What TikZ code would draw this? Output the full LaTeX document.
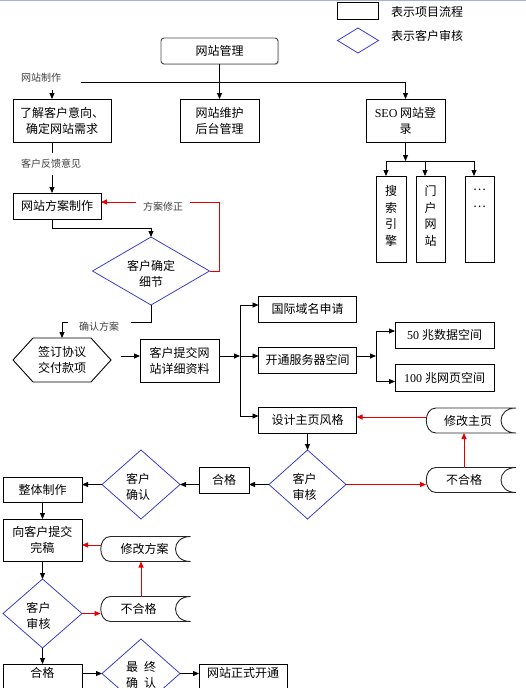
\documentclass[tikz,border=0pt]{standalone}
\usepackage{fontspec}
\setmainfont{Noto Sans CJK SC}
\newfontfamily\latf{Liberation Serif}
\usetikzlibrary{arrows.meta,shapes.geometric,calc,shadows}
\definecolor{diablue}{RGB}{60,60,205}
\definecolor{redl}{RGB}{230,0,0}
\definecolor{topline}{RGB}{165,180,200}
\tikzset{
  every node/.style={inner sep=0pt,outer sep=0pt},
  base/.style={font=\fontsize{12}{16}\selectfont, align=center},
  procbox/.style={base, draw=black, line width=0.9pt, rectangle},
  diab/.style={diamond, draw=diablue, line width=0.8pt},
  stbox/.style={rectangle, minimum width=90pt, minimum height=25pt},
  lbl/.style={font=\fontsize{10}{12}\selectfont, text=black!75, fill=white},
  arr/.style={draw=black, line width=0.8pt, -{Triangle[length=6pt,width=5pt]}},
  rarr/.style={draw=redl, line width=0.8pt, -{Triangle[length=6pt,width=5pt]}, color=redl},
  ln/.style={draw=black, line width=0.8pt},
  stline/.style={draw=black!85, line width=0.9pt},
  vtext/.style={font=\fontsize{12}{16.7}\selectfont, align=center},
}
\newcommand\stshape[1]{\draw[stline] ([xshift=10pt]#1.north west) -- (#1.north east) .. controls ([xshift=-20pt]#1.north east) and ([xshift=-20pt]#1.south east) .. (#1.south east) -- ([xshift=10pt]#1.south west) .. controls ([xshift=-3pt]#1.south west) and ([xshift=-3pt]#1.north west) .. ([xshift=10pt]#1.north west);}
\begin{document}
\begin{tikzpicture}[x=1pt,y=-1pt]
\useasboundingbox (0,0) rectangle (526,688);
\clip (0,0) rectangle (526,688);
\draw[topline, line width=1pt] (0,0.5) -- (526,0.5);

% legend
\node[draw=black, line width=0.9pt, minimum width=41pt, minimum height=17pt] (lgr) at (358,10.5) {};
\node[diab, minimum width=41pt, minimum height=25pt] (lgd) at (358,40.5) {};
\node[base, anchor=west] (lgt1) at (391,12) {表示项目流程};
\node[base, anchor=west] (lgt2) at (391,36) {表示客户审核};

% top
\node[procbox, draw=black!70, fill=white, rounded corners=3pt, minimum width=117pt, minimum height=26pt, drop shadow={shadow xshift=1pt,shadow yshift=-1pt,fill=black!30}] (mgmt) at (219.5,51) {网站管理};
\node[procbox, minimum width=98pt, minimum height=43pt] (lj) at (62,120.5) {了解客户意向、\\确定网站需求};
\node[procbox, minimum width=79pt, minimum height=43pt] (wh) at (219.5,120.5) {网站维护\\后台管理};
\node[procbox, minimum width=79pt, minimum height=43pt] (seo) at (405.5,120.5) {{\latf SEO} 网站登\\录};

% SEO children
\node[procbox, minimum width=30pt, minimum height=86pt] (ss) at (391,219) {};
\node[vtext] (sst) at (391,216) {搜\\索\\引\\擎};
\node[procbox, minimum width=29pt, minimum height=86pt] (mh) at (430.5,219) {};
\node[vtext] (mht) at (430.5,216) {门\\户\\网\\站};
\node[procbox, minimum width=29pt, minimum height=86pt] (dd) at (479.5,219) {};
\node[vtext] (ddt) at (479.5,198) {…\\…};

% left column upper
\node[procbox, minimum width=88pt, minimum height=26pt] (fa) at (57,206) {网站方案制作};
\node[diab, minimum width=117pt, minimum height=68pt, label={[base,yshift=-3pt]center:客户确定\\细节}] (d1) at (151,271) {};
\node[base, minimum width=98pt, minimum height=44pt] (hx) at (62,360) {签订协议\\交付款项};
\draw[line width=0.9pt] (hx.west) -- ([xshift=20pt]hx.north west) -- ([xshift=-20pt]hx.north east) -- (hx.east) -- ([xshift=-20pt]hx.south east) -- ([xshift=20pt]hx.south west) -- cycle;
\node[procbox, minimum width=79pt, minimum height=43pt] (kt) at (179.5,360.5) {客户提交网\\站详细资料};

% middle boxes
\node[procbox, minimum width=98pt, minimum height=26pt] (gj) at (307.5,309) {国际域名申请};
\node[procbox, minimum width=98pt, minimum height=26pt] (kts) at (307.5,360) {开通服务器空间};
\node[procbox, minimum width=98pt, minimum height=26pt] (sj) at (307.5,420) {设计主页风格};
\node[procbox, minimum width=99pt, minimum height=26pt] (b50) at (444.5,335) {{\latf 50 }兆数据空间};
\node[procbox, minimum width=99pt, minimum height=27pt] (b100) at (444.5,377.5) {{\latf 100 }兆网页空间};

% stored shapes
\node[stbox, label={[base,xshift=-3pt]center:修改主页}] (xg) at (471,420.5) {};
\node[stbox, label={[base,xshift=-7pt]center:不合格}] (nR) at (471,480) {};
\node[stbox, label={[base,xshift=-1pt]center:修改方案}] (xf) at (145.5,549) {};
\node[stbox, label={[base,xshift=-7pt]center:不合格}] (nL) at (145.5,609) {};
\stshape{xg}
\stshape{nR}
\stshape{xf}
\stshape{nL}

% lower
\node[diab, minimum width=77pt, minimum height=69pt, label={[base,xshift=-3pt,yshift=-2pt]center:客户\\审核}] (d2) at (307.5,484.5) {};
\node[procbox, minimum width=50pt, minimum height=26pt] (hg1) at (224,480) {合格};
\node[diab, minimum width=78pt, minimum height=69pt, label={[base,xshift=-3pt,yshift=-2pt]center:客户\\确认}] (d3) at (141,484.5) {};
\node[procbox, minimum width=79pt, minimum height=25pt] (zt) at (42.5,489.5) {整体制作};
\node[procbox, minimum width=79pt, minimum height=42pt] (wg) at (42.5,540) {向客户提交\\完稿};
\node[diab, minimum width=79pt, minimum height=69pt, label={[base,xshift=-4pt,yshift=-2pt]center:客户\\审核}] (d4) at (42.5,613.5) {};
\node[procbox, minimum width=79pt, minimum height=26pt, label={[base,yshift=4pt]center:合格}] (hg2) at (42.5,677) {};
\node[diab, minimum width=78pt, minimum height=69pt, label={[base,yshift=-1pt]center:最\hspace{6pt}终\\确\hspace{6pt}认}] (d5) at (141,673.5) {};
\node[procbox, minimum width=88pt, minimum height=26pt, label={[base,yshift=4pt]center:网站正式开通}] (zs) at (243,677) {};

% connectors top
\coordinate (cA) at (52,82);
\draw[arr] (mgmt.south) -- (wh.north);
\draw[ln] (cA) -- (cA -| seo.north);
\draw[arr] (cA -| seo.north) -- (seo.north);
\draw[arr] (cA) -- (cA |- lj.north);
\draw[arr] (cA |- lj.south) -- (cA |- fa.north);
\coordinate (r1) at (219,202);
\draw[rarr] (d1.east) -| (r1) -- (r1 -| fa.east);
\draw[arr] (cA |- fa.south) -- ++(0,9) -| (d1.north);
\coordinate (r2) at (62,322);
\draw[arr] (d1.south) |- (r2) -- (hx.north);
\coordinate (r3) at (121,356);
\draw[arr] (r3) -- (r3 -| kt.west);
\coordinate (r4) at (240,356);
\draw[arr] (r3 -| kt.east) -- (r4);
\draw[arr] (r4) -- (r4 -| kts.west);
\draw[arr] (r4) |- ([yshift=4pt]gj.west);
\draw[arr] (r4) |- ([yshift=4pt]sj.west);
\coordinate (r5) at (376,356);
\draw[arr] (r5 -| kts.east) -- (r5);
\draw[arr] (r5) |- ([yshift=4pt]b50.west);
\draw[arr] (r5) |- ([yshift=-4pt]b100.west);

% SEO children connectors
\coordinate (r7) at (406,161);
\coordinate (s1) at ([xshift=-5pt]ss.north);
\coordinate (s2) at ([xshift=-5.5pt]mh.north);
\coordinate (s3) at ([xshift=-5.5pt]dd.north);
\draw[arr] (seo.south) -- (seo.south |- r7);
\draw[ln] (s1 |- r7) -- (s3 |- r7);
\draw[arr] (s1 |- r7) -- (s1);
\draw[arr] (s2 |- r7) -- (s2);
\draw[arr] (s3 |- r7) -- (s3);

% lower connectors
\draw[rarr] ([yshift=3.5pt]xg.west) -- ([yshift=3.5pt]xg.west -| sj.east);
\draw[arr] (sj.south) -- (d2.north);
\draw[rarr] (d2.east) -- (d2.east -| nR.west);
\coordinate (cR) at (464,0);
\draw[rarr] (cR |- nR.north) -- (cR |- xg.south);
\draw[arr] (d2.west) -- (d2.west -| hg1.east);
\draw[arr] (d2.west -| hg1.west) -- (d3.east);
\draw[arr] (d3.west) -- (d3.west -| zt.east);
\draw[arr] (zt.south) -- (wg.north);
\coordinate (r6) at (0,545);
\draw[rarr] (r6 -| xf.west) -- (r6 -| wg.east);
\draw[arr] (wg.south) -- (d4.north);
\draw[rarr] (d4.east) -- (d4.east -| nL.west);
\coordinate (cL) at (141,0);
\draw[rarr] (cL |- nL.north) -- (cL |- xf.south);
\draw[arr] (d4.south) -- (hg2.north);
\draw[arr] (d5.west -| hg2.east) -- (d5.west);
\draw[arr] (d5.east) -- (d5.east -| zs.west);

% labels on connectors
\node[lbl, minimum width=80pt, minimum height=24pt] (l1) at (41,78) {网站制作};
\node[lbl, minimum width=66pt, minimum height=22pt] (l2) at (51,164) {客户反馈意见};
\node[lbl, minimum width=54pt, minimum height=20pt] (l3) at (163,207) {方案修正};
\node[lbl, minimum width=63pt, minimum height=18pt] (l4) at (99,327) {确认方案};
\end{tikzpicture}
\end{document}
